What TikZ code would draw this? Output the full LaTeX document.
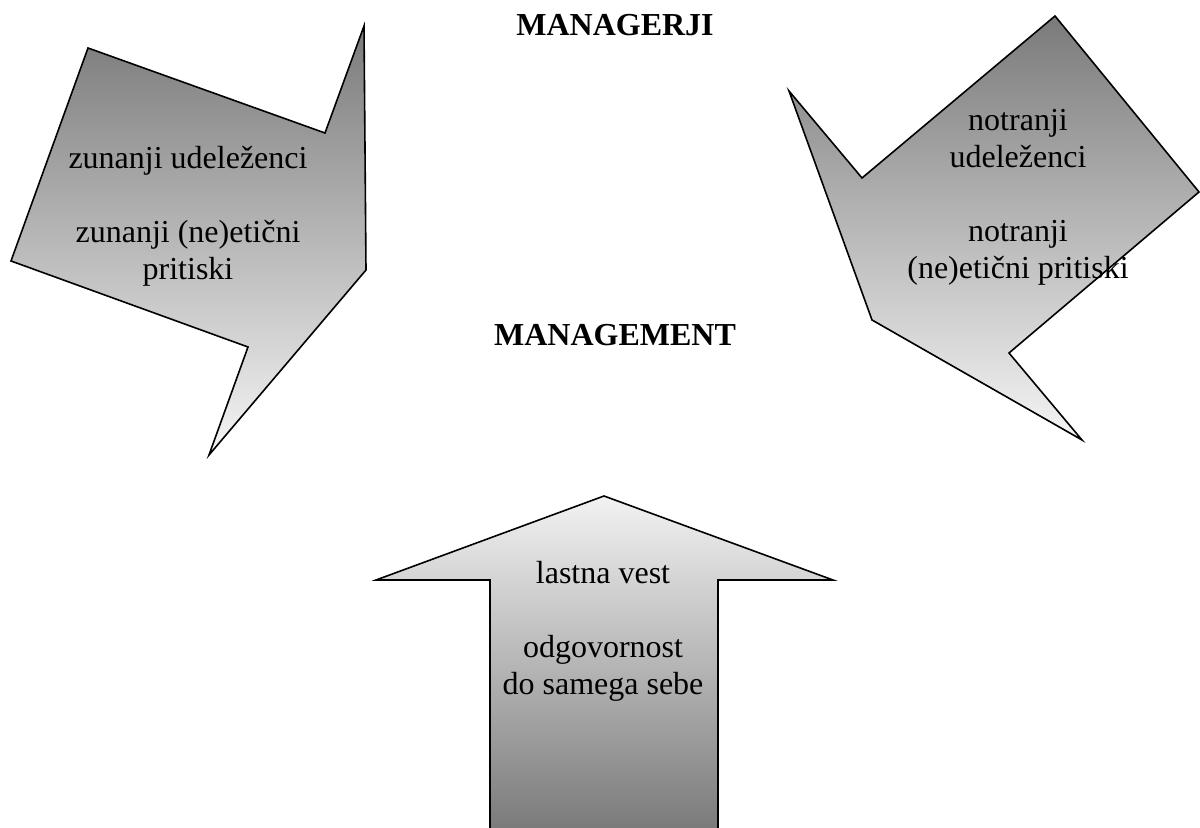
\documentclass[tikz,border=0pt]{standalone}
\usepackage{fontspec}
\setmainfont{Liberation Serif}
\usepackage{tikz}

\begin{document}
\begin{tikzpicture}[x=0.5pt, y=-0.5pt,
    darktop/.style={draw=black, line width=0.8pt, line join=miter,
        top color=black!52, bottom color=black!4},
    darkbottom/.style={draw=black, line width=0.8pt, line join=miter,
        top color=black!5, bottom color=black!52},
    label/.style={align=center, inner sep=0pt,
        font=\fontsize{16}{18.5}\selectfont},
    heading/.style={inner sep=0pt, font=\fontsize{16}{18.5}\selectfont\bfseries}]

    \useasboundingbox (0,0) rectangle (1200,828);

    % Left arrow (external)
    \path[darktop] (88,48) -- (325,133) -- (364,26) -- (366,270)
        -- (209,455) -- (248,347) -- (11,261) -- cycle;

    % Right arrow (internal)
    \path[darktop] (789,91) -- (862,178) -- (1055,16) -- (1199,192)
        -- (1009,353) -- (1082,440) -- (872,320) -- cycle;

    % Bottom arrow (own conscience)
    \path[darkbottom] (490,829) -- (490,580) -- (376,580) -- (604,496)
        -- (833,580) -- (718,580) -- (718,829) -- cycle;

    % Headings
    \node[heading] (managerji) at (615,25) {MANAGERJI};
    \node[heading] (management) at (615,335) {MANAGEMENT};

    % Arrow texts
    \node[label] (zunanji) at (188,216)
        {zunanji udeleženci\\[18.5pt]zunanji (ne)etični\\pritiski};
    \node[label] (notranji) at (1018,197)
        {notranji\\udeleženci\\[18.5pt]notranji\\(ne)etični pritiski};
    \node[label] (vest) at (603,631)
        {lastna vest\\[18.5pt]odgovornost\\do samega sebe};

\end{tikzpicture}
\end{document}
